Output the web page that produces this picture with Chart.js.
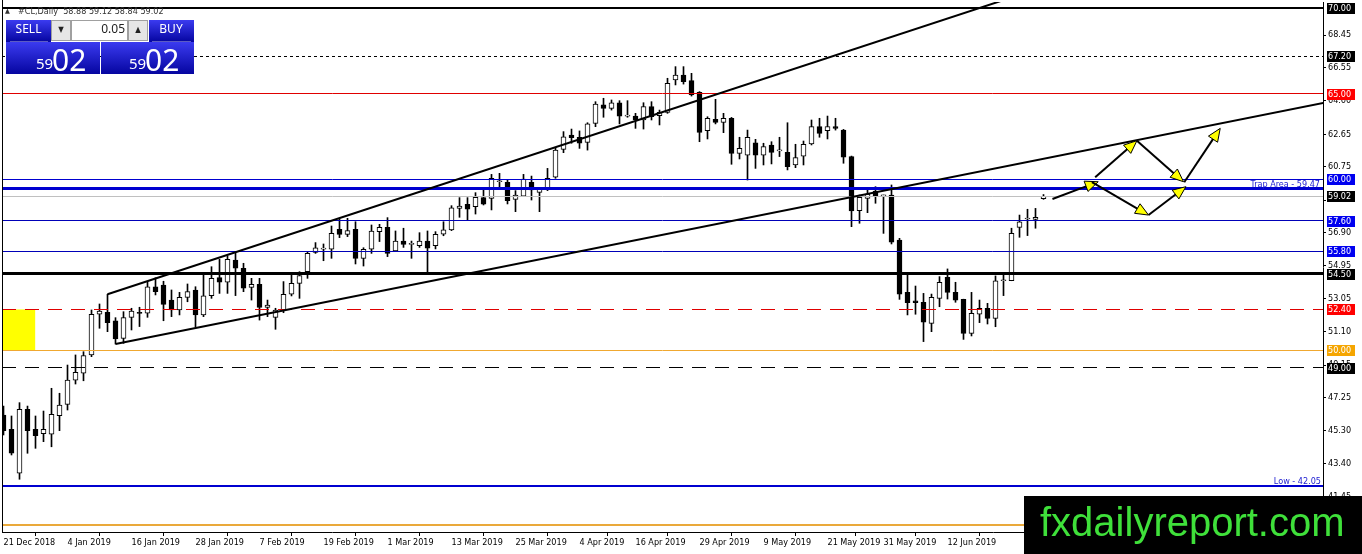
<!DOCTYPE html>
<html><head><meta charset="utf-8">
<script src="https://cdn.jsdelivr.net/npm/chart.js@4.4.1/dist/chart.umd.min.js"></script>
<style>html,body{margin:0;padding:0;background:#fff;overflow:hidden}#wrap{width:1362px;height:554px;position:relative}canvas{display:block}</style>
</head><body><div id="wrap"><canvas id="c" width="1362" height="554"></canvas></div>
<script>
const headerText = '#CL,Daily  58.88 59.12 58.84 59.02';
const watermarkText = 'fxdailyreport.com';
const panelBig = '02', panelSmall = '59', lotText = '0.05';

const tickIdx = [0,8,16,24,32,40,48,56,64,72,79,87,95,103,110,118];
const tickLabels = ['21 Dec 2018','4 Jan 2019','16 Jan 2019','28 Jan 2019','7 Feb 2019','19 Feb 2019','1 Mar 2019','13 Mar 2019','25 Mar 2019','4 Apr 2019','16 Apr 2019','29 Apr 2019','9 May 2019','21 May 2019','31 May 2019','12 Jun 2019'];
const yTicks = [68.45,66.55,64.60,62.65,60.75,58.80,56.90,54.95,53.05,51.10,49.15,47.25,45.30,43.40,41.45];

const opens = [46.23,45.39,42.82,46.56,45.39,45.13,45.10,46.19,46.85,48.27,
48.67,49.74,52.12,52.23,51.73,50.71,51.94,52.23,52.18,53.73,
53.83,52.95,52.37,53.11,53.54,52.08,53.21,54.26,53.99,55.29,
54.81,53.69,53.87,52.52,51.94,52.37,53.29,53.93,54.61,55.74,
55.93,55.93,57.09,56.79,57.09,55.39,55.92,56.95,57.20,55.82,
56.40,56.21,56.13,56.40,56.13,56.81,57.05,58.31,58.55,58.41,
58.94,58.90,59.87,59.83,58.84,59.03,59.83,59.25,59.48,60.13,
61.76,62.60,62.46,62.17,63.28,64.36,64.16,64.49,63.71,63.71,
63.48,64.26,63.73,63.93,65.82,66.11,65.78,65.10,62.86,63.52,
63.34,63.58,61.53,61.43,62.15,61.43,62.02,61.67,61.59,60.85,
61.37,62.08,63.09,62.86,63.09,62.89,61.34,58.18,58.90,59.33,
59.04,59.09,56.46,53.40,52.90,52.82,51.59,53.05,54.28,53.40,
52.99,51.00,52.12,52.47,51.88,54.08,54.08,57.20,57.69,57.67,
58.88];
const highs = [46.75,46.17,46.95,46.75,46.17,46.46,47.79,47.50,49.15,49.74,
49.93,52.37,52.72,53.29,51.92,52.27,52.47,52.53,54.02,54.25,
54.05,53.54,53.40,53.89,53.73,54.45,54.90,55.33,55.53,55.72,
55.10,54.22,54.22,52.95,52.47,54.03,54.51,54.61,55.78,56.31,
56.23,57.28,57.67,57.73,57.53,56.01,57.34,57.38,57.77,56.99,
57.15,56.40,56.89,56.99,56.95,57.53,58.47,58.94,58.94,59.23,
59.52,60.30,60.36,59.97,59.35,60.30,60.20,59.42,60.65,61.88,
62.80,62.95,62.84,63.32,64.55,64.75,64.65,64.61,64.61,63.87,
64.49,64.55,64.06,65.92,66.60,66.60,66.21,65.14,63.67,64.69,
63.87,63.63,62.47,62.89,62.35,62.12,62.21,62.47,63.32,62.06,
62.25,63.48,63.58,63.71,63.58,62.93,61.37,59.09,59.39,59.58,
59.09,59.68,56.56,54.57,53.77,53.34,53.30,54.32,54.77,53.99,
53.00,53.40,52.95,52.76,54.36,54.42,57.15,57.92,58.26,58.31,
59.12];
const lows = [45.06,43.89,42.47,43.99,44.28,44.67,44.37,45.31,46.52,48.04,
48.23,49.64,51.30,51.10,50.38,50.42,51.20,51.40,51.94,53.25,
51.74,51.98,52.08,52.85,51.39,51.98,53.05,53.34,53.34,53.21,
53.44,52.95,51.78,51.98,51.24,52.21,53.19,53.05,54.22,55.68,
55.25,55.39,56.60,56.66,55.06,54.94,55.68,56.37,55.49,55.78,
56.03,55.39,56.03,54.46,55.94,56.71,57.01,57.79,57.63,57.98,
58.51,58.22,59.58,58.57,58.12,59.00,58.80,58.12,59.35,60.07,
61.57,62.12,61.82,61.72,63.09,63.64,64.06,63.25,63.64,62.99,
62.95,63.48,63.19,63.87,65.53,65.58,64.88,62.21,62.37,63.25,
62.74,60.89,61.20,59.97,60.65,60.85,60.91,61.34,60.56,60.69,
60.85,62.02,62.47,62.37,62.89,60.95,57.24,57.44,58.06,58.61,
56.85,56.23,52.99,52.08,52.12,50.52,51.10,52.56,53.01,52.82,
50.65,50.85,51.63,51.55,51.39,53.21,54.08,56.62,56.72,57.15,
58.84];
const closes = [45.31,43.99,46.56,45.31,45.02,45.39,46.27,46.81,48.27,48.73,
49.70,52.12,52.31,51.63,50.67,51.92,52.31,52.17,53.73,53.44,
52.70,52.37,53.11,53.44,52.08,53.19,54.22,53.99,55.33,54.81,
53.64,53.87,52.52,52.66,52.37,53.29,53.93,54.38,55.68,56.01,
55.95,56.85,56.79,57.01,55.39,55.92,56.99,57.20,55.68,56.40,
56.21,56.21,56.40,55.98,56.79,57.05,58.35,58.45,58.27,58.96,
58.55,60.07,59.89,58.76,59.09,60.03,59.39,59.42,60.07,61.72,
62.50,62.45,62.12,63.25,64.41,64.16,64.49,63.71,63.73,63.48,
64.26,63.67,63.93,65.62,66.11,65.72,64.94,62.76,63.58,63.34,
63.58,61.53,61.82,62.47,61.43,61.92,61.59,61.69,60.75,61.28,
62.06,63.09,62.70,63.09,62.99,61.30,58.16,58.96,59.15,59.04,
59.06,56.33,53.29,52.80,52.80,51.65,53.11,53.99,53.40,52.95,
51.00,52.17,52.47,51.88,54.07,54.08,56.85,57.53,57.69,57.79,
59.02];

const levelPrices = [70.00,67.20,65.00,60.00,59.47,59.02,57.60,55.80,54.50,52.40,50.00,49.00,42.05,39.78];
const trapPrice = 59.47, lowPrice = 42.05;
const zoneBars = [-1, 3.96];
const zonePrices = [50.00, 52.40];
const trendUpper = [[13,53.29],[100,66.65]];
const trendLower = [[14,50.38],[110,59.34]];
const arrowSegs = [
  [131.12,58.86,136.84,59.87],
  [136.46,60.13,141.68,62.27],
  [141.68,62.27,147.50,59.87],
  [136.05,59.84,143.13,57.92],
  [143.13,57.92,147.80,59.58],
  [147.59,59.84,152.09,62.99]
];

/* styles (kept apart from data) */
const levelStyles = [
 {c:'#000000', w:2, d:[], box:'#000000'},
 {c:'#000000', w:1, d:[3,3], box:'#000000'},
 {c:'#e00000', w:1, d:[], box:'#ff0000'},
 {c:'#0000d0', w:1, d:[], box:'#0000f0'},
 {c:'#0000d0', w:3, d:[], box:null},
 {c:'#c0c0c0', w:1, d:[], box:'#000000'},
 {c:'#0000b8', w:1, d:[], box:'#0000f0'},
 {c:'#0000b8', w:1, d:[], box:'#0000f0'},
 {c:'#000000', w:3, d:[], box:'#000000'},
 {c:'#e00000', w:1, d:[14,9], box:'#ff0000'},
 {c:'#f0a830', w:1, d:[], box:'#f5a500'},
 {c:'#000000', w:1, d:[14,9], box:'#000000'},
 {c:'#0000d0', w:2, d:[], box:null},
 {c:'#eaa93a', w:2, d:[], box:null}
];
const FONT = '"DejaVu Sans Condensed","DejaVu Sans",sans-serif';

const idx = opens.map((_, i) => i);
const bodyData = idx.map(i => ({x:i, y:[opens[i], closes[i]]}));
const wickData = idx.map(i => ({x:i, y:[lows[i], highs[i]]}));
const bodyColors = idx.map(i => closes[i] >= opens[i] ? '#ffffff' : '#000000');

function drawArrow(ctx, x1, y1, x2, y2) {
  const a = Math.atan2(y2 - y1, x2 - x1);
  const L = 13, W = 5.5;
  const bx = x2 - L * Math.cos(a), by = y2 - L * Math.sin(a);
  ctx.setLineDash([]);
  ctx.strokeStyle = '#000'; ctx.lineWidth = 2;
  ctx.beginPath(); ctx.moveTo(x1, y1); ctx.lineTo(bx, by); ctx.stroke();
  ctx.beginPath();
  ctx.moveTo(x2, y2);
  ctx.lineTo(bx + W * Math.sin(a), by - W * Math.cos(a));
  ctx.lineTo(bx - W * Math.sin(a), by + W * Math.cos(a));
  ctx.closePath();
  ctx.fillStyle = '#ffff00'; ctx.fill();
  ctx.lineWidth = 1; ctx.stroke();
}

const overlay = {
  id: 'overlay',
  beforeDatasetsDraw(chart) {
    const {ctx, chartArea: A, scales: {x, y}} = chart;
    ctx.save();
    ctx.beginPath(); ctx.rect(A.left, A.top, A.right - A.left, A.bottom - A.top); ctx.clip();
    const x0 = x.getPixelForValue(zoneBars[0]), x1 = x.getPixelForValue(zoneBars[1]);
    const y0 = y.getPixelForValue(zonePrices[1]), y1 = y.getPixelForValue(zonePrices[0]);
    ctx.fillStyle = '#ffff00';
    ctx.fillRect(x0, y0, x1 - x0, y1 - y0);
    ctx.restore();
  },
  afterDatasetsDraw(chart) {
    const {ctx, chartArea: A, scales: {x, y}} = chart;
    ctx.save();
    ctx.beginPath(); ctx.rect(A.left, A.top, A.right - A.left, A.bottom - A.top); ctx.clip();
    levelPrices.forEach((p, k) => {
      const s = levelStyles[k];
      let py = y.getPixelForValue(p);
      if (s.w % 2 === 1) py = Math.round(py - 0.5) + 0.5; else py = Math.round(py);
      ctx.strokeStyle = s.c; ctx.lineWidth = s.w; ctx.setLineDash(s.d);
      ctx.beginPath(); ctx.moveTo(A.left, py); ctx.lineTo(A.right, py); ctx.stroke();
    });
    ctx.setLineDash([]);
    [trendUpper, trendLower].forEach(t => {
      const px1 = x.getPixelForValue(t[0][0]), py1 = y.getPixelForValue(t[0][1]);
      const px2 = x.getPixelForValue(t[1][0]), py2 = y.getPixelForValue(t[1][1]);
      const k = (A.right + 50 - px1) / (px2 - px1);
      ctx.strokeStyle = '#000'; ctx.lineWidth = 2;
      ctx.beginPath(); ctx.moveTo(px1, py1); ctx.lineTo(px1 + (px2 - px1) * k, py1 + (py2 - py1) * k); ctx.stroke();
    });
    arrowSegs.forEach(s => {
      drawArrow(ctx, x.getPixelForValue(s[0]), y.getPixelForValue(s[1]), x.getPixelForValue(s[2]), y.getPixelForValue(s[3]));
    });
    ctx.font = '9px ' + FONT;
    ctx.fillStyle = '#1a1ad0';
    ctx.textAlign = 'right'; ctx.textBaseline = 'alphabetic';
    ctx.fillText('Trap Area - ' + trapPrice.toFixed(2), A.right - 3, y.getPixelForValue(trapPrice) - 2);
    ctx.fillText('Low - ' + lowPrice.toFixed(2), A.right - 2, y.getPixelForValue(lowPrice) - 2);
    ctx.restore();
  },
  afterDraw(chart) {
    const {ctx, chartArea: A, scales: {y}} = chart;
    ctx.save();
    // price boxes on right axis
    ctx.font = '9px ' + FONT;
    ctx.textBaseline = 'middle'; ctx.textAlign = 'left';
    levelPrices.forEach((p, k) => {
      const s = levelStyles[k];
      if (!s.box) return;
      const py = Math.round(y.getPixelForValue(p));
      ctx.fillStyle = s.box;
      ctx.fillRect(A.right + 4, py - 5, 28, 11);
      ctx.fillStyle = '#ffffff';
      ctx.fillText(p.toFixed(2), A.right + 5, py + 0.5);
    });
    // left border
    ctx.strokeStyle = '#000'; ctx.lineWidth = 1;
    ctx.beginPath(); ctx.moveTo(A.left + 0.5, 0); ctx.lineTo(A.left + 0.5, A.bottom); ctx.stroke();
    // header
    ctx.fillStyle = '#333';
    ctx.font = '7px ' + FONT; ctx.textBaseline = 'alphabetic';
    ctx.fillText('\u25B2', 5, 13);
    ctx.font = '9px ' + FONT;
    ctx.fillText(headerText, 18, 14);
    // trade panel
    const grad = (y0, y1) => { const g = ctx.createLinearGradient(0, y0, 0, y1); g.addColorStop(0, '#3b3bf0'); g.addColorStop(1, '#0505a0'); return g; };
    ctx.fillStyle = grad(20, 42); ctx.fillRect(6, 20, 45, 22);
    ctx.fillStyle = grad(20, 42); ctx.fillRect(149, 20, 45, 22);
    ctx.fillStyle = grad(42, 74); ctx.fillRect(6, 42, 94, 32);
    ctx.fillStyle = grad(42, 74); ctx.fillRect(101, 42, 93, 32);
    ctx.strokeStyle = 'rgba(255,255,255,0.35)';
    ctx.beginPath(); ctx.moveTo(10, 41.5); ctx.lineTo(48, 41.5); ctx.moveTo(152, 41.5); ctx.lineTo(191, 41.5); ctx.stroke();
    ctx.fillStyle = '#e6e6e6'; ctx.fillRect(51, 20, 20, 21); ctx.fillRect(128, 20, 20, 21);
    ctx.fillStyle = '#ffffff'; ctx.fillRect(71, 20, 57, 21);
    ctx.strokeStyle = '#a0a0a0';
    ctx.strokeRect(51.5, 20.5, 19, 20); ctx.strokeRect(128.5, 20.5, 19, 20); ctx.strokeRect(71.5, 20.5, 56, 20);
    ctx.fillStyle = '#222'; ctx.font = '8px ' + FONT; ctx.textAlign = 'center'; ctx.textBaseline = 'middle';
    ctx.fillText('\u25BC', 61, 30); ctx.fillText('\u25B2', 138, 30);
    ctx.font = '12px "Noto Sans",sans-serif'; ctx.textAlign = 'right';
    ctx.fillText(lotText, 125, 30);
    ctx.fillStyle = '#ffffff'; ctx.textAlign = 'center';
    ctx.fillText('SELL', 28.5, 30); ctx.fillText('BUY', 171, 30);
    ctx.textAlign = 'left'; ctx.textBaseline = 'alphabetic';
    ctx.font = '15px "Noto Sans",sans-serif';
    ctx.fillText(panelSmall, 36, 69); ctx.fillText(panelSmall, 129, 69);
    ctx.font = '30px "Noto Sans",sans-serif';
    ctx.fillText(panelBig, 52, 71); ctx.fillText(panelBig, 145, 71);
    // watermark
    ctx.fillStyle = '#000';
    ctx.fillRect(1024, 496, 338, 58);
    ctx.fillStyle = '#3fe03a';
    ctx.font = '40px "Liberation Sans",Arial,sans-serif';
    ctx.textAlign = 'left'; ctx.textBaseline = 'alphabetic';
    ctx.fillText(watermarkText, 1040, 536);
    ctx.restore();
  }
};

new Chart(document.getElementById('c'), {
  type: 'bar',
  data: {
    datasets: [
      {data: bodyData, backgroundColor: bodyColors, borderColor: '#000', borderWidth: 1, borderSkipped: false,
       barThickness: 5, minBarLength: 1, grouped: false, order: 0},
      {data: wickData, backgroundColor: '#000', borderWidth: 0, barThickness: 1, grouped: false, order: 1}
    ]
  },
  plugins: [overlay],
  options: {
    responsive: false, animation: false, devicePixelRatio: 1,
    layout: {padding: {left: 2, top: 2, right: 0, bottom: 0}},
    plugins: {legend: {display: false}, tooltip: {enabled: false}},
    scales: {
      x: {
        type: 'linear', min: -0.1875, max: 164.9375, offset: false,
        afterBuildTicks: s => { s.ticks = tickIdx.map(v => ({value: v})); },
        afterFit: s => { s.height = 22; s.paddingLeft = 0; s.paddingRight = 0; },
        ticks: {autoSkip: false, maxRotation: 0, minRotation: 0, align: 'start', padding: 1, color: '#000',
          font: {family: FONT, size: 9},
          callback: v => { const k = tickIdx.indexOf(v); return k >= 0 ? tickLabels[k] : ''; }},
        grid: {drawOnChartArea: false, drawTicks: true, tickLength: 4, color: '#000'},
        border: {display: true, color: '#000', width: 1}
      },
      y: {
        type: 'linear', position: 'right', min: 39.386, max: 70.380,
        afterBuildTicks: s => { s.ticks = yTicks.map(v => ({value: v})); },
        afterFit: s => { s.width = 39; s.paddingTop = 0; s.paddingBottom = 0; },
        ticks: {padding: 2, color: '#000', font: {family: FONT, size: 9}, callback: v => Number(v).toFixed(2)},
        grid: {drawOnChartArea: false, drawTicks: true, tickLength: 3, color: '#000'},
        border: {display: true, color: '#000', width: 1}
      }
    }
  }
});
</script>
</body></html>
